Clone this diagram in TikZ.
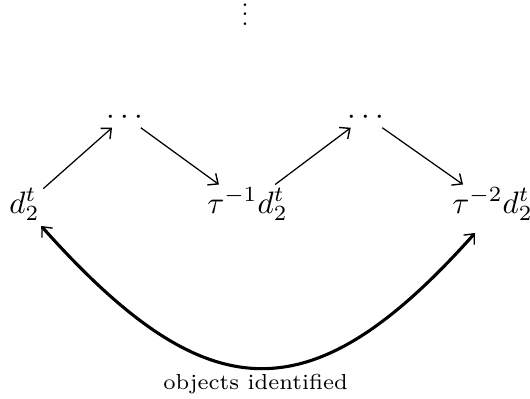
\documentclass[tikz,border=0pt]{standalone}
\usetikzlibrary{calc,arrows.meta}
\begin{document}
\begin{tikzpicture}[x=0.3226pt,y=-0.3226pt,
  objnode/.style={inner sep=1pt, text height=8pt, text depth=3pt, anchor=base},
  dotsnode/.style={inner sep=1pt, text height=5pt, text depth=0pt, anchor=base},
  barb/.tip={Straight Barb[length=2.6pt, width=4.6pt, line width=0.45pt]},
  arr/.style={-barb, line width=0.4pt},
  ident/.style={barb-barb, line width=1pt}]
\useasboundingbox (0,0) rectangle (530,398);
\node[inner sep=0pt, anchor=south] (vd) at (245,26.5) {\scalebox{0.8}{$\vdots$}};
\node[dotsnode] (l1) at (125,124) {$\cdots$};
\node[dotsnode] (l2) at (366,124) {$\cdots$};
\node[objnode] (d) at (24.5,213) {$d_2^t$};
\node[objnode] (t1) at (247.5,213) {$\tau^{-1}d_2^t$};
\node[objnode] (t2) at (492.5,213) {$\tau^{-2}d_2^t$};
\node[anchor=base, font=\scriptsize, inner sep=0pt] (lab) at (255.5,389) {objects identified};
\draw[arr] (d) -- (l1);
\draw[arr] (l1) -- (t1);
\draw[arr] (t1) -- (l2);
\draw[arr] (l2) -- (t2);
\draw[ident] ($(d.south east)+(-2,0)$) .. controls +(165,185) and +(-165,185) .. ($(t2.south)+(-17.5,7)$);
\end{tikzpicture}
\end{document}
